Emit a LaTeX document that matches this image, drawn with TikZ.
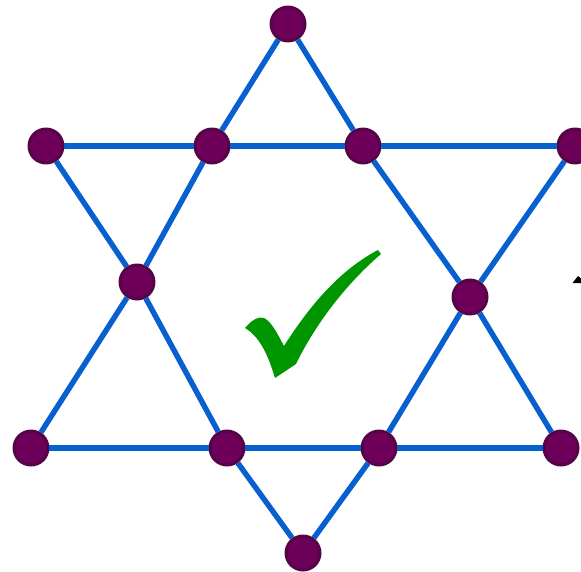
\documentclass[tikz,border=0pt]{standalone}

\definecolor{starblue}{RGB}{8,96,208}
\definecolor{dotfill}{RGB}{110,0,90}
\definecolor{dotedge}{RGB}{85,5,70}
\definecolor{checkgreen}{RGB}{0,150,0}

\tikzset{
    dot/.style={circle, fill=dotfill, draw=dotedge, line width=1.7pt, minimum size=0.68cm, inner sep=0pt},
    starline/.style={starblue, line width=3.1pt}
}

\begin{document}
\begin{tikzpicture}[x=0.02cm, y=-0.02cm]
            \useasboundingbox (0,0) rectangle (581,571);
            \clip (0,0) rectangle (581,571);

            % ==== DOTS ====
            \node[dot] (top) at (288,24) {};
            \node[dot] (ul)  at (46,146) {};
            \node[dot] (ui1) at (212,146) {};
            \node[dot] (ui2) at (363,146) {};
            \node[dot] (ur)  at (575,146) {};
            \node[dot] (ml)  at (137,282) {};
            \node[dot] (mr)  at (470,297) {};
            \node[dot] (ll)  at (31,448) {};
            \node[dot] (li1) at (227,448) {};
            \node[dot] (li2) at (379,448) {};
            \node[dot] (lr)  at (561,448) {};
            \node[dot] (bot) at (303,553) {};

            % ==== UPWARD TRIANGLE ====
            \draw[starline] (top) -- (ui1) -- (ml) -- (ll);
            \draw[starline] (ll) -- (li1) -- (li2) -- (lr);
            \draw[starline] (lr) -- (mr) -- (ui2) -- (top);

            % ==== DOWNWARD TRIANGLE ====
            \draw[starline] (ul) -- (ui1) -- (ui2) -- (ur);
            \draw[starline] (ur) -- (mr) -- (li2) -- (bot);
            \draw[starline] (bot) -- (li1) -- (ml) -- (ul);

            % ==== CHECK MARK ====
            \fill[checkgreen] (245,328) .. controls (252,320) and (258,316) .. (264,318)
                .. controls (272,322) and (278,335) .. (284,346)
                .. controls (310,305) and (340,270) .. (378,250)
                -- (381,254)
                .. controls (345,285) and (315,325) .. (296,364)
                -- (275,378)
                .. controls (268,355) and (260,337) .. (245,328) -- cycle;

            % ==== ARROW TIP AT EDGE ====
            \fill[black] (572.5,283) -- (578,276) -- (581,278.5) -- (581,283) -- cycle;
        \end{tikzpicture}
\end{document}
